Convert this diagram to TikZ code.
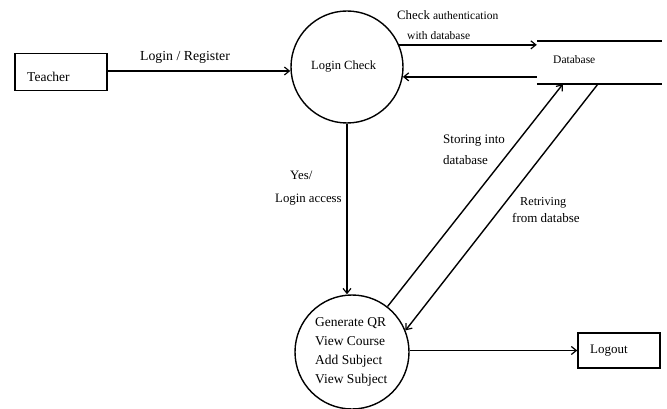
\documentclass[tikz,border=0pt]{standalone}
\usepackage{fontspec}
\setmainfont{Liberation Serif}
\usetikzlibrary{arrows.meta}
\newcommand{\fs}[1]{\fontsize{#1}{#1}\selectfont}
\begin{document}
\begin{tikzpicture}[x=1pt,y=-1pt,
  every node/.style={font=\fs{12.8}, inner sep=0pt},
  ext/.style={draw, line width=1.5pt, rectangle, anchor=center},
  proc/.style={draw, line width=1.4pt, circle},
  flow/.style={line width=1.4pt, -{Straight Barb[length=5pt,width=8pt,line width=1.2pt]}},
  lbl/.style={align=left, anchor=west}]
\useasboundingbox (0,0) rectangle (667,409);

\node[ext, minimum width=92pt, minimum height=37pt] (teacher) at (61,72) {};
\node[anchor=west, font=\fs{13.5}] (teachert) at (27,77) {Teacher};

\node[proc, minimum size=112pt] (lc) at (347,67) {};
\node[anchor=west, font=\fs{12.5}] (lct) at (311,67) {Login Check};

\node[minimum width=125pt, minimum height=43pt] (db) at (599.5,62.5) {};
\node[anchor=west, font=\fs{11.5}] (dbt) at (553,60) {Database};
\draw[line width=1.6pt] (db.north west) -- (db.north east);
\draw[line width=1.6pt] (db.south west) -- (db.south east);

\node[proc, minimum size=114pt] (gen) at (352,352) {};
\node[align=left, anchor=west, font=\fontsize{13.5}{19}\selectfont] (gent) at (315,352) {Generate QR\\View Course\\Add Subject\\View Subject};

\node[ext, minimum width=82pt, minimum height=35pt] (logout) at (619,350.5) {};
\node[anchor=west, font=\fs{13}] (logoutt) at (590,351) {Logout};

% connectors
\draw[flow] (teacher.east |- 0,71) coordinate (t1) -- (t1 -| lc.west);
\node[font=\fs{13.8}] (l1) at (185,57) {Login / Register};

\draw[flow] (lc.23) -- (lc.23 -| db.west);
\draw[flow] (db.west |- lc.-10) -- (lc.-10);
\node[lbl] (l2a) at (397,15) {Check \fs{11.5}authentication};
\node[lbl, font=\fs{11.5}] (l2b) at (407,36) {with database};

\draw[flow] (lc.south) -- (lc.south |- gen.north);
\node[lbl] (l3a) at (290,175) {Yes/};
\node[lbl] (l3b) at (275,200) {Login access};

\coordinate (dbin) at ([xshift=26pt]db.south west);
\coordinate (dbout) at ([xshift=61pt]db.south west);
\draw[flow] (gen.52) -- (dbin);
\draw[flow] (dbout) -- (gen.22);
\node[lbl, font=\fs{13}] (l4a) at (443,141) {Storing into};
\node[lbl, font=\fs{13}] (l4b) at (443,160) {database};
\node[lbl, font=\fs{12.2}] (l5a) at (520,203) {Retriving};
\node[lbl, font=\fs{13}] (l5b) at (512,218) {from databse};

\draw[flow] (gen.east |- logout.west) -- (logout.west);
\end{tikzpicture}
\end{document}
